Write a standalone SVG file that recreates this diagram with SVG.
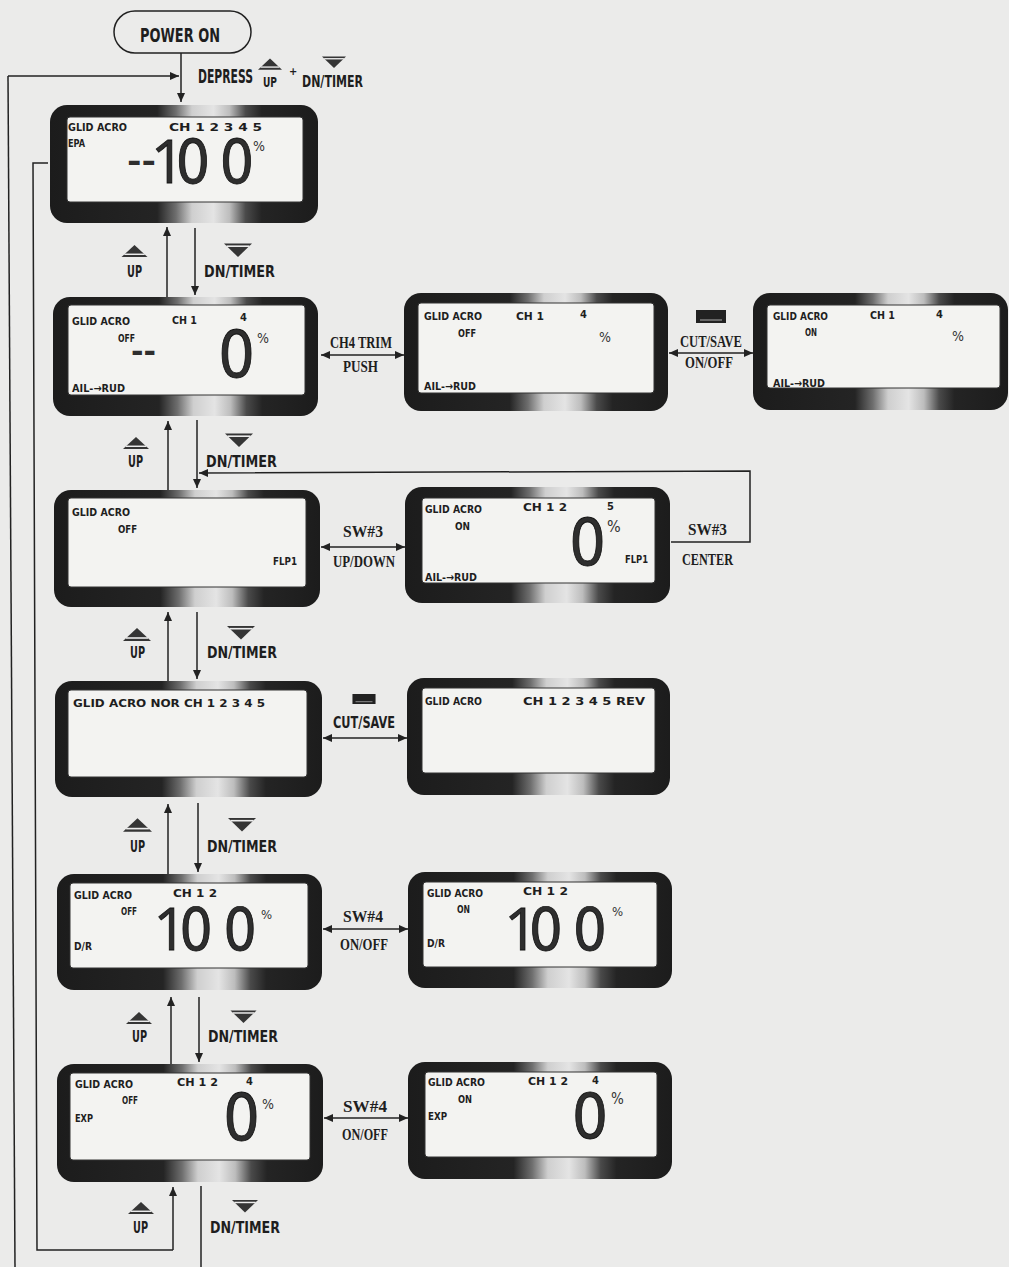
<svg xmlns="http://www.w3.org/2000/svg" xmlns:xlink="http://www.w3.org/1999/xlink" width="1009" height="1267" viewBox="0 0 1009 1267">
<defs>
<style>
.lcd{font-family:"DejaVu Sans Condensed","DejaVu Sans",sans-serif;font-weight:bold;font-size:11px;fill:#1e1e1e}
.pct{font-family:"DejaVu Sans Condensed","DejaVu Sans",sans-serif;font-size:14px;fill:#333}
.big{font-family:"DejaVu Sans Condensed","DejaVu Sans",sans-serif;fill:#2e2e2e;stroke:#111;stroke-width:0.8;text-anchor:middle}
.one{font-family:"Open Sans","Roboto",sans-serif}
.dash{font-family:"DejaVu Sans",sans-serif;font-weight:bold;font-size:30px;fill:#2e2e2e}
.lbl{font-family:"DejaVu Sans Condensed","DejaVu Sans",sans-serif;font-weight:bold;font-size:16px;fill:#1e1e1e}
.srf{font-family:"Liberation Serif",serif;font-weight:bold;font-size:17px;fill:#1e1e1e}
.frame{fill:url(#glare)}
.lcdbg{fill:#f3f3f1;stroke:#333;stroke-width:1}
.ln{fill:none;stroke:#222;stroke-width:1.5}
.arr{marker-end:url(#ah)}
.dbl{marker-start:url(#ah);marker-end:url(#ah)}
</style>
<linearGradient id="glare" x1="0" y1="0" x2="1" y2="0">
<stop offset="0" stop-color="#1c1c1c"/>
<stop offset="0.40" stop-color="#242424"/>
<stop offset="0.47" stop-color="#6e6e6e"/>
<stop offset="0.53" stop-color="#cfcfcf"/>
<stop offset="0.61" stop-color="#e4e4e4"/>
<stop offset="0.67" stop-color="#bdbdbd"/>
<stop offset="0.73" stop-color="#4a4a4a"/>
<stop offset="0.79" stop-color="#242424"/>
<stop offset="1" stop-color="#1c1c1c"/>
</linearGradient>
<marker id="ah" viewBox="0 0 9 8" refX="9" refY="4" markerWidth="9" markerHeight="8" markerUnits="userSpaceOnUse" orient="auto-start-reverse">
<path d="M0,0 L9,4 L0,8 z" fill="#222"/>
</marker>
<symbol id="up" viewBox="0 0 28 14">
<polygon points="14,0 28,13 0,13" fill="#353535"/>
<line x1="3" y1="10" x2="25" y2="10" stroke="#ececec" stroke-width="1.6"/>
</symbol>
<symbol id="dn" viewBox="0 0 28 14">
<polygon points="0,0.5 28,0.5 14,14" fill="#353535"/>
<line x1="2.5" y1="3.2" x2="25.5" y2="3.2" stroke="#ececec" stroke-width="1.6"/>
</symbol>
<symbol id="cs" viewBox="0 0 30 13">
<rect x="0" y="0" width="30" height="13" fill="#222"/>
<line x1="4" y1="10" x2="26" y2="10" stroke="#aaa" stroke-width="1"/>
</symbol>
</defs>

<rect x="0" y="0" width="1009" height="1267" fill="#ebebea"/>

<g id="power-on">
<rect x="114" y="11" width="137" height="42" rx="21" fill="none" stroke="#222" stroke-width="1.5"/>
<text class="lbl" x="140" y="42" style="font-size:20px" textLength="80" lengthAdjust="spacingAndGlyphs">POWER ON</text>
</g>

<g id="depress-label">
<text class="lbl" transform="translate(198,83) scale(0.6,1)" x="0" y="0" style="font-size:20px">DEPRESS</text>
<use href="#up" x="258" y="58" width="24" height="13"/>
<text class="lbl" x="263" y="87" style="font-size:14px" textLength="14" lengthAdjust="spacingAndGlyphs">UP</text>
<text class="lbl" x="289" y="75" style="font-size:11px">+</text>
<use href="#dn" x="322" y="55" width="24" height="14"/>
<text class="lbl" x="302" y="87" textLength="61" lengthAdjust="spacingAndGlyphs">DN/TIMER</text>
</g>

<g id="connectors">
<line class="ln arr" x1="181" y1="53" x2="181" y2="102"/>
<polyline class="ln" points="15,1267 8,76"/>
<line class="ln arr" x1="8" y1="76" x2="179" y2="76"/>
<polyline class="ln" points="48,163 33,163 37,1250 173,1250"/>
<line class="ln arr" x1="173" y1="1250" x2="173" y2="1187"/>
<line class="ln" x1="201" y1="1186" x2="201" y2="1267"/>
<line class="ln arr" x1="167" y1="297" x2="167" y2="227"/>
<line class="ln arr" x1="195" y1="228" x2="195" y2="295"/>
<line class="ln arr" x1="168" y1="490" x2="168" y2="421"/>
<line class="ln arr" x1="197" y1="420" x2="197" y2="488"/>
<line class="ln arr" x1="168" y1="681" x2="168" y2="612"/>
<line class="ln arr" x1="197" y1="612" x2="197" y2="679"/>
<line class="ln arr" x1="168" y1="874" x2="168" y2="804"/>
<line class="ln arr" x1="198" y1="803" x2="198" y2="872"/>
<line class="ln arr" x1="171" y1="1064" x2="171" y2="997"/>
<line class="ln arr" x1="199" y1="997" x2="199" y2="1062"/>
<line class="ln dbl" x1="321" y1="355" x2="404" y2="355"/>
<line class="ln dbl" x1="669" y1="353" x2="753" y2="353"/>
<line class="ln dbl" x1="321" y1="547" x2="405" y2="547"/>
<line class="ln dbl" x1="323" y1="738" x2="407" y2="738"/>
<line class="ln dbl" x1="323" y1="929" x2="408" y2="929"/>
<line class="ln dbl" x1="324" y1="1118" x2="408" y2="1118"/>
<polyline class="ln arr" points="671,542 750,542 750,471 199,473"/>
</g>

<g id="screen-epa">
<rect class="frame" x="50" y="105" width="268" height="118" rx="17"/>
<rect class="lcdbg" x="67" y="117" width="236" height="85" rx="3"/>
<text class="lcd" x="68" y="131" textLength="59" lengthAdjust="spacingAndGlyphs">GLID ACRO</text>
<text class="lcd" x="169" y="131" textLength="93" lengthAdjust="spacingAndGlyphs">CH 1 2 3 4 5</text>
<text class="lcd" x="68" y="147" textLength="17" lengthAdjust="spacingAndGlyphs">EPA</text>
<text class="dash" x="127" y="172" textLength="29" lengthAdjust="spacingAndGlyphs">--</text>
<text class="big" font-size="60"><tspan class="one" x="168" y="183">1</tspan><tspan x="193" y="183">0</tspan><tspan x="237" y="183">0</tspan></text>
<text class="pct" x="253" y="151">%</text>
</g>

<g id="screen-ail-rud-off">
<rect class="frame" x="53" y="297" width="265" height="119" rx="17"/>
<rect class="lcdbg" x="68" y="305" width="237" height="90" rx="3"/>
<text class="lcd" x="72" y="325" textLength="58" lengthAdjust="spacingAndGlyphs">GLID ACRO</text>
<text class="lcd" x="172" y="324" textLength="25" lengthAdjust="spacingAndGlyphs">CH 1</text>
<text class="lcd" x="240" y="321">4</text>
<text class="lcd" x="118" y="342" textLength="17" lengthAdjust="spacingAndGlyphs">OFF</text>
<text class="dash" x="131" y="362" textLength="25" lengthAdjust="spacingAndGlyphs">--</text>
<text class="big" font-size="64" x="236.5" y="377">0</text>
<text class="pct" x="257" y="343">%</text>
<text class="lcd" x="72" y="392" textLength="53" lengthAdjust="spacingAndGlyphs">AIL-→RUD</text>
</g>

<g id="screen-ail-rud-off-b">
<rect class="frame" x="404" y="293" width="264" height="118" rx="17"/>
<rect class="lcdbg" x="418" y="303" width="236" height="90" rx="3"/>
<text class="lcd" x="424" y="320" textLength="58" lengthAdjust="spacingAndGlyphs">GLID ACRO</text>
<text class="lcd" x="516" y="320" textLength="28" lengthAdjust="spacingAndGlyphs">CH 1</text>
<text class="lcd" x="580" y="318">4</text>
<text class="lcd" x="458" y="337" textLength="18" lengthAdjust="spacingAndGlyphs">OFF</text>
<text class="pct" x="599" y="342">%</text>
<text class="lcd" x="424" y="390" textLength="52" lengthAdjust="spacingAndGlyphs">AIL-→RUD</text>
</g>

<g id="screen-ail-rud-on">
<rect class="frame" x="753" y="293" width="255" height="117" rx="17"/>
<rect class="lcdbg" x="767" y="305" width="233" height="83" rx="3"/>
<text class="lcd" x="773" y="320" textLength="55" lengthAdjust="spacingAndGlyphs">GLID ACRO</text>
<text class="lcd" x="870" y="319" textLength="25" lengthAdjust="spacingAndGlyphs">CH 1</text>
<text class="lcd" x="936" y="318">4</text>
<text class="lcd" x="805" y="336" textLength="12" lengthAdjust="spacingAndGlyphs">ON</text>
<text class="pct" x="952" y="341">%</text>
<text class="lcd" x="773" y="387" textLength="52" lengthAdjust="spacingAndGlyphs">AIL-→RUD</text>
</g>

<g id="screen-flp1-off">
<rect class="frame" x="54" y="490" width="266" height="117" rx="17"/>
<rect class="lcdbg" x="68" y="498" width="238" height="89" rx="3"/>
<text class="lcd" x="72" y="516" textLength="58" lengthAdjust="spacingAndGlyphs">GLID ACRO</text>
<text class="lcd" x="118" y="533" textLength="19" lengthAdjust="spacingAndGlyphs">OFF</text>
<text class="lcd" x="273" y="565" textLength="24" lengthAdjust="spacingAndGlyphs">FLP1</text>
</g>

<g id="screen-flp1-on">
<rect class="frame" x="405" y="487" width="265" height="116" rx="17"/>
<rect class="lcdbg" x="422" y="498" width="233" height="85" rx="3"/>
<text class="lcd" x="425" y="513" textLength="57" lengthAdjust="spacingAndGlyphs">GLID ACRO</text>
<text class="lcd" x="523" y="511" textLength="44" lengthAdjust="spacingAndGlyphs">CH 1 2</text>
<text class="lcd" x="607" y="510">5</text>
<text class="lcd" x="455" y="530" textLength="15" lengthAdjust="spacingAndGlyphs">ON</text>
<text class="big" font-size="64" x="587.5" y="565">0</text>
<text class="pct" x="607" y="532" style="font-size:16px">%</text>
<text class="lcd" x="625" y="563" textLength="23" lengthAdjust="spacingAndGlyphs">FLP1</text>
<text class="lcd" x="425" y="581" textLength="52" lengthAdjust="spacingAndGlyphs">AIL-→RUD</text>
</g>

<g id="screen-nor">
<rect class="frame" x="55" y="681" width="267" height="116" rx="17"/>
<rect class="lcdbg" x="68" y="690" width="239" height="87" rx="3"/>
<text class="lcd" x="73" y="707" textLength="192" lengthAdjust="spacingAndGlyphs">GLID ACRO NOR CH 1 2 3 4 5</text>
</g>

<g id="screen-rev">
<rect class="frame" x="407" y="678" width="263" height="117" rx="17"/>
<rect class="lcdbg" x="422" y="688" width="233" height="85" rx="3"/>
<text class="lcd" x="425" y="705" textLength="57" lengthAdjust="spacingAndGlyphs">GLID ACRO</text>
<text class="lcd" x="523" y="705" textLength="122" lengthAdjust="spacingAndGlyphs">CH 1 2 3 4 5 REV</text>
</g>

<g id="screen-dr-off">
<rect class="frame" x="57" y="874" width="265" height="116" rx="17"/>
<rect class="lcdbg" x="70" y="883" width="238" height="85" rx="3"/>
<text class="lcd" x="74" y="899" textLength="58" lengthAdjust="spacingAndGlyphs">GLID ACRO</text>
<text class="lcd" x="173" y="897" textLength="44" lengthAdjust="spacingAndGlyphs">CH 1 2</text>
<text class="lcd" x="121" y="915" textLength="16" lengthAdjust="spacingAndGlyphs">OFF</text>
<text class="lcd" x="74" y="950" textLength="18" lengthAdjust="spacingAndGlyphs">D/R</text>
<text class="big" font-size="58"><tspan class="one" x="170" y="950">1</tspan><tspan x="196" y="950">0</tspan><tspan x="240" y="950">0</tspan></text>
<text class="pct" x="261" y="919" style="font-size:13px">%</text>
</g>

<g id="screen-dr-on">
<rect class="frame" x="408" y="872" width="264" height="116" rx="17"/>
<rect class="lcdbg" x="423" y="882" width="234" height="85" rx="3"/>
<text class="lcd" x="427" y="897" textLength="56" lengthAdjust="spacingAndGlyphs">GLID ACRO</text>
<text class="lcd" x="523" y="895" textLength="45" lengthAdjust="spacingAndGlyphs">CH 1 2</text>
<text class="lcd" x="457" y="913" textLength="13" lengthAdjust="spacingAndGlyphs">ON</text>
<text class="lcd" x="427" y="947" textLength="18" lengthAdjust="spacingAndGlyphs">D/R</text>
<text class="big" font-size="59"><tspan class="one" x="521" y="950">1</tspan><tspan x="546" y="950">0</tspan><tspan x="590" y="950">0</tspan></text>
<text class="pct" x="612" y="916" style="font-size:13px">%</text>
</g>

<g id="screen-exp-off">
<rect class="frame" x="57" y="1064" width="266" height="118" rx="17"/>
<rect class="lcdbg" x="70" y="1073" width="240" height="87" rx="3"/>
<text class="lcd" x="75" y="1088" textLength="58" lengthAdjust="spacingAndGlyphs">GLID ACRO</text>
<text class="lcd" x="177" y="1086" textLength="41" lengthAdjust="spacingAndGlyphs">CH 1 2</text>
<text class="lcd" x="246" y="1085">4</text>
<text class="lcd" x="122" y="1104" textLength="16" lengthAdjust="spacingAndGlyphs">OFF</text>
<text class="lcd" x="75" y="1122" textLength="18" lengthAdjust="spacingAndGlyphs">EXP</text>
<text class="big" font-size="64" x="241.5" y="1140">0</text>
<text class="pct" x="262" y="1109">%</text>
</g>

<g id="screen-exp-on">
<rect class="frame" x="408" y="1062" width="264" height="117" rx="17"/>
<rect class="lcdbg" x="425" y="1072" width="232" height="85" rx="3"/>
<text class="lcd" x="428" y="1086" textLength="57" lengthAdjust="spacingAndGlyphs">GLID ACRO</text>
<text class="lcd" x="528" y="1085" textLength="40" lengthAdjust="spacingAndGlyphs">CH 1 2</text>
<text class="lcd" x="592" y="1084">4</text>
<text class="lcd" x="458" y="1103" textLength="14" lengthAdjust="spacingAndGlyphs">ON</text>
<text class="lcd" x="428" y="1120" textLength="19" lengthAdjust="spacingAndGlyphs">EXP</text>
<text class="big" font-size="63" x="590" y="1138">0</text>
<text class="pct" x="611" y="1104" style="font-size:15px">%</text>
</g>

<g id="updn-labels">
<use href="#up" x="121" y="245" width="27" height="13"/>
<text class="lbl" x="127" y="277" textLength="15" lengthAdjust="spacingAndGlyphs">UP</text>
<use href="#dn" x="224" y="243" width="28" height="14"/>
<text class="lbl" x="204" y="277" textLength="71" lengthAdjust="spacingAndGlyphs">DN/TIMER</text>

<use href="#up" x="122" y="437" width="28" height="13"/>
<text class="lbl" x="128" y="467" textLength="15" lengthAdjust="spacingAndGlyphs">UP</text>
<use href="#dn" x="225" y="433" width="28" height="14"/>
<text class="lbl" x="206" y="467" textLength="71" lengthAdjust="spacingAndGlyphs">DN/TIMER</text>

<use href="#up" x="123" y="628" width="28" height="14"/>
<text class="lbl" x="130" y="658" textLength="15" lengthAdjust="spacingAndGlyphs">UP</text>
<use href="#dn" x="227" y="625" width="28" height="15"/>
<text class="lbl" x="207" y="658" textLength="70" lengthAdjust="spacingAndGlyphs">DN/TIMER</text>

<use href="#up" x="123" y="818" width="29" height="15"/>
<text class="lbl" x="130" y="852" textLength="15" lengthAdjust="spacingAndGlyphs">UP</text>
<use href="#dn" x="228" y="817" width="28" height="15"/>
<text class="lbl" x="207" y="852" textLength="70" lengthAdjust="spacingAndGlyphs">DN/TIMER</text>

<use href="#up" x="125" y="1012" width="28" height="13"/>
<text class="lbl" x="132" y="1042" textLength="15" lengthAdjust="spacingAndGlyphs">UP</text>
<use href="#dn" x="230" y="1010" width="27" height="13"/>
<text class="lbl" x="208" y="1042" textLength="70" lengthAdjust="spacingAndGlyphs">DN/TIMER</text>

<use href="#up" x="127" y="1202" width="28" height="13"/>
<text class="lbl" x="133" y="1233" textLength="15" lengthAdjust="spacingAndGlyphs">UP</text>
<use href="#dn" x="232" y="1199" width="26" height="14"/>
<text class="lbl" x="210" y="1233" textLength="70" lengthAdjust="spacingAndGlyphs">DN/TIMER</text>
</g>

<g id="side-labels">
<text class="srf" x="330" y="348" textLength="62" lengthAdjust="spacingAndGlyphs">CH4 TRIM</text>
<text class="srf" x="343" y="372" textLength="35" lengthAdjust="spacingAndGlyphs">PUSH</text>

<use href="#cs" x="696" y="310" width="30" height="13"/>
<text class="srf" x="680" y="347" textLength="62" lengthAdjust="spacingAndGlyphs">CUT/SAVE</text>
<text class="srf" x="685" y="368" textLength="48" lengthAdjust="spacingAndGlyphs">ON/OFF</text>

<text class="srf" x="343" y="537" textLength="40" lengthAdjust="spacingAndGlyphs">SW#3</text>
<text class="srf" x="333" y="567" textLength="62" lengthAdjust="spacingAndGlyphs">UP/DOWN</text>

<text class="srf" x="688" y="535" textLength="39" lengthAdjust="spacingAndGlyphs">SW#3</text>
<text class="srf" x="682" y="565" textLength="51" lengthAdjust="spacingAndGlyphs">CENTER</text>

<use href="#cs" x="350" y="694" width="28" height="10"/>
<text class="lbl" x="333" y="728" textLength="62" lengthAdjust="spacingAndGlyphs">CUT/SAVE</text>

<text class="srf" x="343" y="922" textLength="40" lengthAdjust="spacingAndGlyphs">SW#4</text>
<text class="srf" x="340" y="950" textLength="48" lengthAdjust="spacingAndGlyphs">ON/OFF</text>

<text class="srf" x="343" y="1112" textLength="44" lengthAdjust="spacingAndGlyphs">SW#4</text>
<text class="srf" x="342" y="1140" textLength="46" lengthAdjust="spacingAndGlyphs">ON/OFF</text>
</g>
</svg>
